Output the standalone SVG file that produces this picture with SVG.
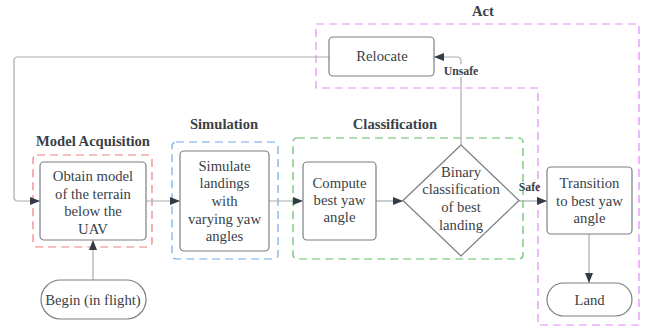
<svg xmlns="http://www.w3.org/2000/svg" width="649" height="331" viewBox="0 0 649 331">
<defs>
<style>
.node{fill:#fff;stroke:#7b7e83;stroke-width:1.2}
.t{font-family:'Liberation Serif','DejaVu Serif',serif;font-size:14.7px;fill:#3a3f47;text-anchor:middle}
.h{font-family:'Liberation Serif','DejaVu Serif',serif;font-size:14.6px;font-weight:bold;fill:#3a3f47;text-anchor:middle}
.lbl{font-family:'Liberation Serif','DejaVu Serif',serif;font-size:11.8px;font-weight:bold;fill:#3a3f47;text-anchor:middle}
.conn{fill:none;stroke:#a9abae;stroke-width:1.2}
.grp{fill:none;stroke-width:1.2;stroke-dasharray:8,5}
</style>
<marker id="arr" viewBox="0 0 10 10" refX="10" refY="5" markerWidth="10" markerHeight="10" markerUnits="userSpaceOnUse" orient="auto">
<path d="M0,1 L10,5 L0,9 Z" fill="#333b46"/>
</marker>
</defs>
<rect width="649" height="331" fill="#fff"/>

<g id="groups">
<rect x="33" y="155" width="119" height="92" rx="4" class="grp" stroke="#ef7e7e"/>
<rect x="172" y="142" width="106" height="117" rx="4" class="grp" stroke="#6fa7ee"/>
<rect x="293" y="138" width="230" height="121" rx="4" class="grp" stroke="#63bd63"/>
<path d="M316,24 H639 V325 H538 V88 H316 Z" class="grp" stroke="#df8cf7" stroke-dasharray="4,3"/>
<text class="h" x="93" y="146">Model Acquisition</text>
<text class="h" x="224" y="129">Simulation</text>
<text class="h" x="395" y="129">Classification</text>
<text class="h" x="483" y="16">Act</text>
</g>

<g id="connectors">
<path d="M329,57 H18 Q14,57 14,61 V197 Q14,201 18,201 H40" class="conn" marker-end="url(#arr)"/>
<path d="M93,280 V240" class="conn" marker-end="url(#arr)"/>
<path d="M146,201 H180" class="conn" marker-end="url(#arr)"/>
<path d="M269,201 H303" class="conn" marker-end="url(#arr)"/>
<path d="M376,201 H403" class="conn" marker-end="url(#arr)"/>
<path d="M461,145 V61 Q461,57 457,57 H434" class="conn" marker-end="url(#arr)"/>
<path d="M519,201 H547" class="conn" marker-end="url(#arr)"/>
<path d="M589,234 V283" class="conn" marker-end="url(#arr)"/>
<rect x="442" y="64" width="38" height="13" fill="#fff"/>
<text class="lbl" x="461" y="75">Unsafe</text>
<text class="lbl" x="529.5" y="191">Safe</text>
</g>

<g id="relocate">
<rect x="329" y="37" width="105" height="39" rx="4" class="node"/>
<text class="t" x="382" y="60.5">Relocate</text>
</g>

<g id="obtain">
<rect x="40" y="162" width="106" height="78" rx="4" class="node"/>
<text class="t" x="93" y="181">Obtain model</text>
<text class="t" x="93" y="198.5">of the terrain</text>
<text class="t" x="93" y="216">below the</text>
<text class="t" x="93" y="233.5">UAV</text>
</g>

<g id="begin">
<rect x="41" y="280" width="105" height="39" rx="19.5" class="node"/>
<text class="t" x="93" y="304.5">Begin (in flight)</text>
</g>

<g id="simulate">
<rect x="180" y="151" width="89" height="100" rx="4" class="node"/>
<text class="t" x="224.5" y="171">Simulate</text>
<text class="t" x="224.5" y="188">landings</text>
<text class="t" x="224.5" y="205.5">with</text>
<text class="t" x="224.5" y="223.5">varying yaw</text>
<text class="t" x="224.5" y="241">angles</text>
</g>

<g id="compute">
<rect x="303" y="162" width="73" height="78" rx="4" class="node"/>
<text class="t" x="339.5" y="187.5">Compute</text>
<text class="t" x="339.5" y="205">best yaw</text>
<text class="t" x="339.5" y="222">angle</text>
</g>

<g id="binary">
<path d="M461,145 L519,200.5 L461,256 L403,200.5 Z" class="node" stroke-linejoin="round"/>
<text class="t" x="461" y="177">Binary</text>
<text class="t" x="461" y="194">classification</text>
<text class="t" x="461" y="211.5">of best</text>
<text class="t" x="461" y="229.5">landing</text>
</g>

<g id="transition">
<rect x="547" y="167" width="85" height="67" rx="4" class="node"/>
<text class="t" x="589.5" y="188">Transition</text>
<text class="t" x="589.5" y="205.5">to best yaw</text>
<text class="t" x="589.5" y="223">angle</text>
</g>

<g id="land">
<rect x="547" y="283" width="85" height="33" rx="16.5" class="node"/>
<text class="t" x="589.5" y="304.5">Land</text>
</g>
</svg>
